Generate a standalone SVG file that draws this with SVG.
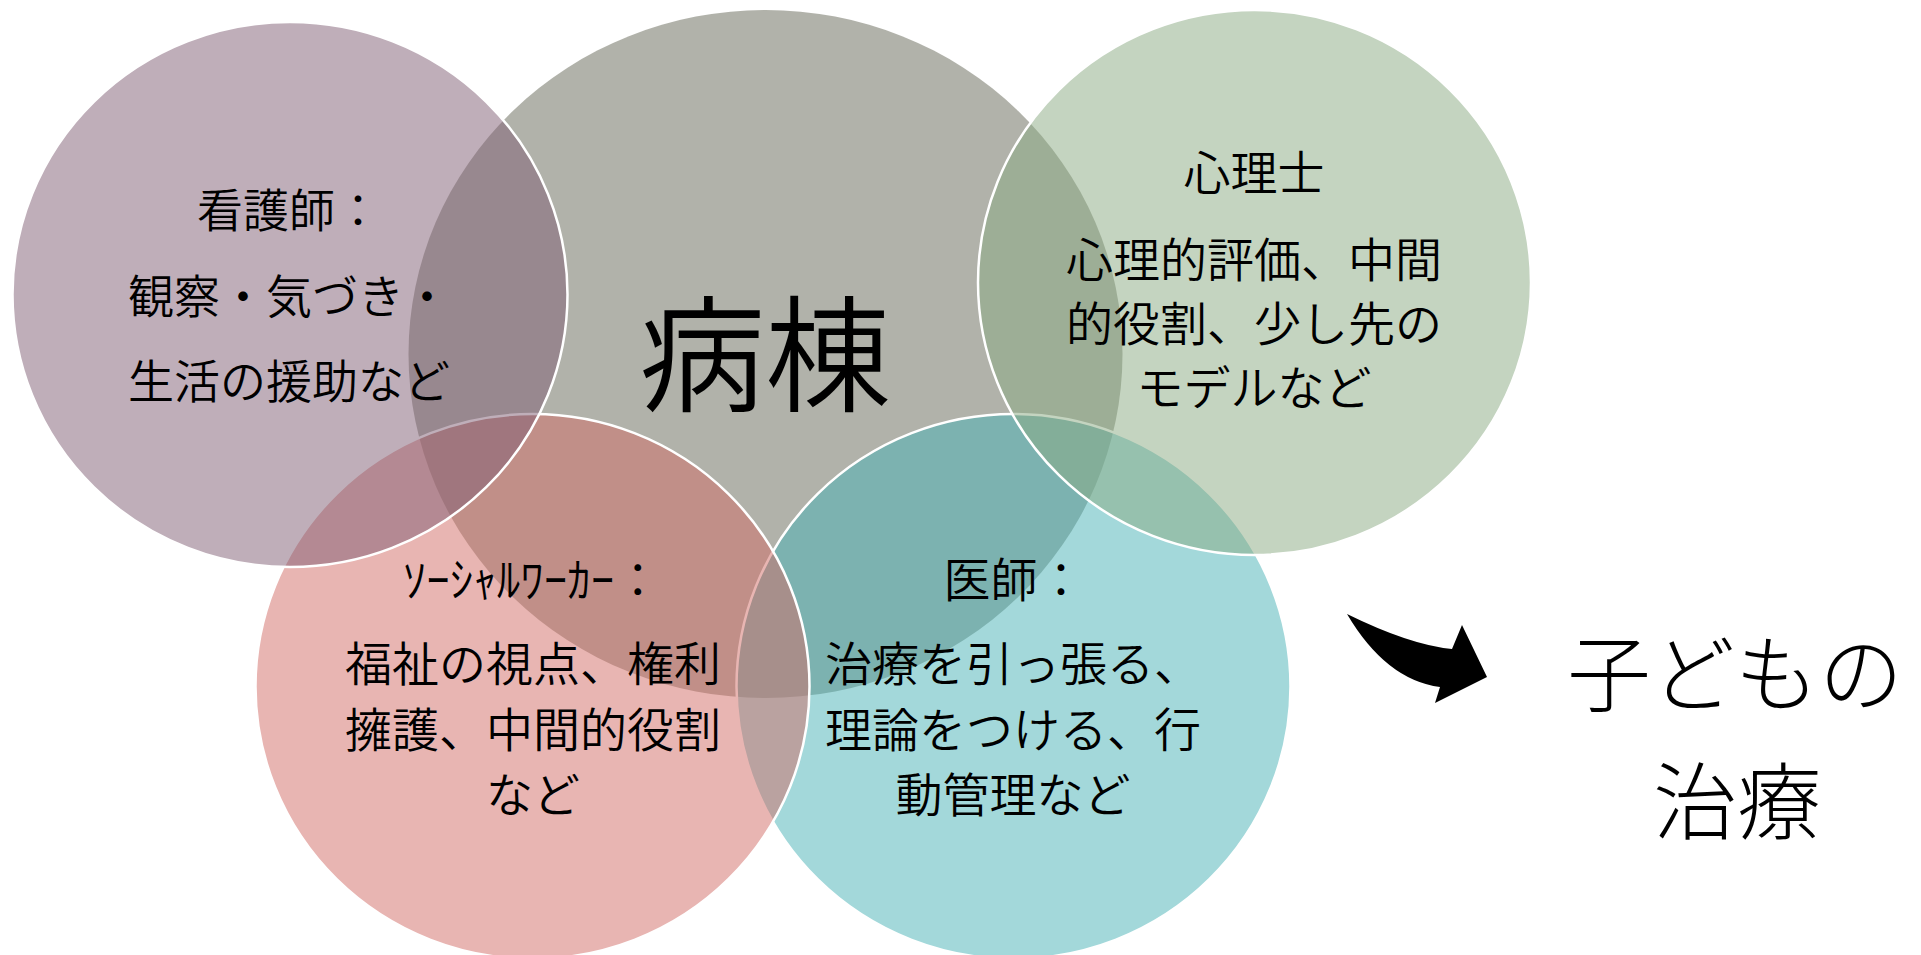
<svg xmlns="http://www.w3.org/2000/svg" width="1921" height="955" viewBox="0 0 1921 955">
<style>
.c{fill-opacity:0.5;stroke:#fff;stroke-width:2.5}
.t{font-family:"Noto Sans CJK JP","Noto Sans CJK SC",sans-serif;font-size:47px;font-weight:350;fill:#000;text-anchor:middle}
.r{font-size:84px;font-weight:300}
</style>
<rect width="1921" height="955" fill="#fff"/>
<g id="ward">
<ellipse cx="765.5" cy="354" rx="357" ry="344" fill="#636555" fill-opacity="0.5"/>
</g>
<g id="doctor">
<ellipse class="c" cx="1013.5" cy="686.5" rx="277" ry="272.5" fill="#47b1b5"/>
</g>
<g id="socialworker">
<ellipse class="c" cx="532.5" cy="686.5" rx="277" ry="272.5" fill="#d16b65"/>
</g>
<g id="nurse">
<ellipse class="c" cx="290" cy="294.5" rx="277.5" ry="272.5" fill="#7f5d73"/>
</g>
<g id="psychologist">
<ellipse class="c" cx="1254.5" cy="282.5" rx="276.5" ry="272.5" fill="#89a981"/>
</g>
<g id="labels">
<text class="t" x="765" y="402" style="font-size:126px">病棟</text>
<text class="t" x="289" y="227" style="font-size:46px">看護師：</text>
<text class="t" x="289" y="313" style="font-size:46px">観察・気づき・</text>
<text class="t" x="289" y="398" style="font-size:46px">生活の援助など</text>
<text class="t" x="1254" y="190">心理士</text>
<text class="t" x="1254" y="277">心理的評価、中間</text>
<text class="t" x="1254" y="341">的役割、少し先の</text>
<text class="t" x="1254" y="405">モデルなど</text>
<text class="t" x="532" y="597">ｿｰｼｬﾙﾜｰｶｰ：</text>
<text class="t" x="533" y="681">福祉の視点、権利</text>
<text class="t" x="533" y="747">擁護、中間的役割</text>
<text class="t" x="533" y="812">など</text>
<text class="t" x="1014" y="597">医師：</text>
<text class="t" x="1013" y="681">治療を引っ張る、</text>
<text class="t" x="1013" y="747">理論をつける、行</text>
<text class="t" x="1013" y="812">動管理など</text>
</g>
<g id="connectors">
<path d="M1347,614 Q1410,645 1452,649 L1462,625 L1487,677 L1435,703 L1440,687 Q1386,680 1347,614 Z" fill="#000"/>
</g>
<g id="result">
<text class="t r" x="1735" y="705">子どもの</text>
<text class="t r" x="1737" y="833">治療</text>
</g>
</svg>
